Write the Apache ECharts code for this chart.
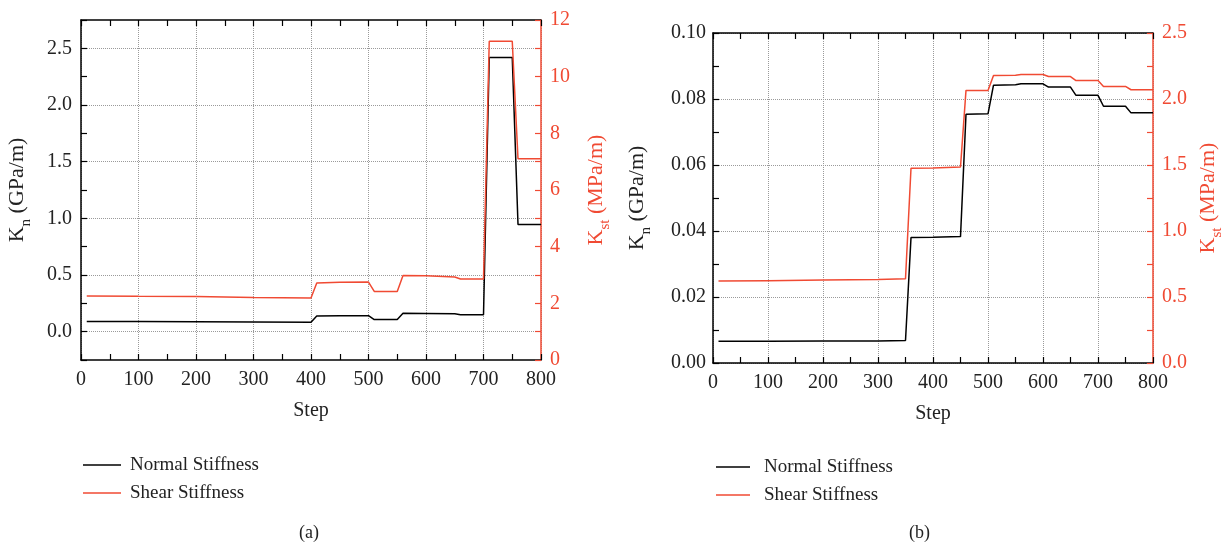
<!DOCTYPE html>
<html><head><meta charset="utf-8">
<script src="https://cdn.jsdelivr.net/npm/echarts@6/dist/echarts.min.js"></script>
<style>html,body{margin:0;padding:0;background:#fff}#c{width:1226px;height:547px}</style>
</head><body><div id="c"></div>
<script>
// Panel (a)
var stepsA = [10, 100, 200, 300, 400, 410, 450, 500, 510, 550, 560, 600, 650, 660, 700, 710, 750, 760, 800];
var normalA = [0.090, 0.089, 0.088, 0.086, 0.083, 0.138, 0.140, 0.141, 0.107, 0.107, 0.163, 0.161, 0.158, 0.150, 0.150, 2.42, 2.42, 0.945, 0.945];
var shearA = [2.26, 2.25, 2.24, 2.21, 2.19, 2.72, 2.74, 2.75, 2.42, 2.42, 2.98, 2.97, 2.93, 2.86, 2.86, 11.25, 11.25, 7.1, 7.1];
// Panel (b)
var stepsB = [10, 100, 200, 300, 350, 360, 400, 450, 460, 500, 510, 550, 560, 600, 610, 650, 660, 700, 710, 750, 760, 800];
var normalB = [0.0066, 0.0066, 0.0067, 0.0067, 0.0068, 0.0380, 0.0381, 0.0383, 0.0754, 0.0755, 0.0842, 0.0843, 0.0846, 0.0846, 0.0836, 0.0836, 0.0811, 0.0811, 0.0778, 0.0778, 0.0758, 0.0758];
var shearB = [0.622, 0.624, 0.628, 0.632, 0.638, 1.475, 1.478, 1.485, 2.065, 2.065, 2.178, 2.18, 2.185, 2.185, 2.17, 2.17, 2.14, 2.14, 2.095, 2.095, 2.07, 2.07];
var seriesNames = ['Normal Stiffness', 'Shear Stiffness'];
var captions = ['(a)', '(b)'];
var xLabel = 'Step';

var FONT = '"Liberation Serif", "DejaVu Serif", serif';
var RED = '#f04a33';
var GRID = '#9a9a9a';
var TICKFS = 20;

function pairs(xs, ys) { return xs.map(function (x, i) { return [x, ys[i]]; }); }

function xAxes(gi, bottomName) {
  var base = {
    gridIndex: gi, type: 'value', min: 0, max: 800, interval: 100,
    axisLine: { show: true, onZero: false, lineStyle: { color: '#000', width: 1.5 } },
    axisTick: { show: true, inside: true, length: 6, lineStyle: { color: '#000', width: 1.2 } },
    minorTick: { show: true, splitNumber: 2, length: 6, lineStyle: { color: '#000', width: 1.2 } }
  };
  var bottom = Object.assign({}, base, {
    position: 'bottom', name: bottomName, nameLocation: 'middle', nameGap: 41,
    nameTextStyle: { fontFamily: FONT, fontSize: 20, color: '#222' },
    axisLabel: { fontFamily: FONT, fontSize: TICKFS, color: '#222', margin: 10 },
    splitLine: { show: true, lineStyle: { color: GRID, type: 'dotted', width: 1 } }
  });
  var top = Object.assign({}, base, {
    position: 'top', axisLabel: { show: false }, splitLine: { show: false }
  });
  return [bottom, top];
}

function nameStyle(color) {
  return {
    fontFamily: FONT, color: color,
    rich: {
      k: { fontFamily: FONT, fontSize: 22, color: color, lineHeight: 25, verticalAlign: 'top' },
      s: { fontFamily: FONT, fontSize: 15, color: color, lineHeight: 15, padding: [13, 0, 0, 0], verticalAlign: 'top' }
    }
  };
}

function yCommon(color) {
  return {
    axisLine: { show: true, onZero: false, lineStyle: { color: color, width: 1.5 } },
    axisTick: { show: true, inside: true, length: 6, lineStyle: { color: color, width: 1.2 } }
  };
}

var option = {
  backgroundColor: '#fff',
  animation: false,
  grid: [
    { left: 81, right: 685, top: 20, bottom: 187 },
    { left: 713, right: 71, top: 33, bottom: 184 }
  ],
  xAxis: [].concat(xAxes(0, xLabel), xAxes(1, xLabel)),
  yAxis: [
    Object.assign({ // (a) left
      gridIndex: 0, type: 'value', position: 'left', min: -0.25, max: 2.75, interval: 0.25,
      name: '{k|K}{s|n}{k| (GPa/m)}', nameLocation: 'middle', nameRotate: 90, nameGap: 50,
      nameTextStyle: nameStyle('#222'),
      axisLabel: {
        fontFamily: FONT, fontSize: TICKFS, color: '#222', margin: 9,
        formatter: function (v) { var r = Math.round(v * 100); return (r % 50 === 0) ? (v).toFixed(1) : ''; }
      },
      splitLine: { show: true, lineStyle: { color: ['rgba(0,0,0,0)', GRID], type: 'dotted', width: 1 } }
    }, yCommon('#000')),
    Object.assign({ // (a) right
      gridIndex: 0, type: 'value', position: 'right', min: 0, max: 12, interval: 2,
      name: '{k|K}{s|st}{k| (MPa/m)}', nameLocation: 'middle', nameRotate: 90, nameGap: 44,
      nameTextStyle: nameStyle(RED),
      minorTick: { show: true, splitNumber: 2, length: 6, lineStyle: { color: RED, width: 1.2 } },
      axisLabel: { fontFamily: FONT, fontSize: TICKFS, color: RED, margin: 9 },
      splitLine: { show: false }
    }, yCommon(RED)),
    Object.assign({ // (b) left
      gridIndex: 1, type: 'value', position: 'left', min: 0, max: 0.1, interval: 0.02,
      name: '{k|K}{s|n}{k| (GPa/m)}', nameLocation: 'middle', nameRotate: 90, nameGap: 62,
      nameTextStyle: nameStyle('#222'),
      minorTick: { show: true, splitNumber: 2, length: 6, lineStyle: { color: '#000', width: 1.2 } },
      axisLabel: { fontFamily: FONT, fontSize: TICKFS, color: '#222', margin: 7, formatter: function (v) { return v.toFixed(2); } },
      splitLine: { show: true, lineStyle: { color: GRID, type: 'dotted', width: 1 } }
    }, yCommon('#000')),
    Object.assign({ // (b) right
      gridIndex: 1, type: 'value', position: 'right', min: 0, max: 2.5, interval: 0.5,
      name: '{k|K}{s|st}{k| (MPa/m)}', nameLocation: 'middle', nameRotate: 90, nameGap: 44,
      nameTextStyle: nameStyle(RED),
      minorTick: { show: true, splitNumber: 2, length: 6, lineStyle: { color: RED, width: 1.2 } },
      axisLabel: { fontFamily: FONT, fontSize: TICKFS, color: RED, margin: 9, formatter: function (v) { return v.toFixed(1); } },
      splitLine: { show: false }
    }, yCommon(RED))
  ],
  legend: [
    {
      orient: 'vertical', left: 78, top: 450, itemWidth: 38, itemHeight: 1.6, itemGap: 8, icon: 'rect',
      data: seriesNames, textStyle: { fontFamily: FONT, fontSize: 19, color: '#222', lineHeight: 20, padding: [0, 0, 0, 4] }
    },
    {
      orient: 'vertical', left: 711, top: 452, itemWidth: 34, itemHeight: 1.6, itemGap: 8, icon: 'rect',
      data: seriesNames, textStyle: { fontFamily: FONT, fontSize: 19, color: '#222', lineHeight: 20, padding: [0, 0, 0, 9] }
    }
  ],
  graphic: [
    { type: 'text', left: 299, top: 524, style: { text: captions[0], font: '18px ' + FONT, fill: '#222' } },
    { type: 'text', left: 909, top: 524, style: { text: captions[1], font: '18px ' + FONT, fill: '#222' } }
  ],
  series: [
    { name: seriesNames[0], type: 'line', xAxisIndex: 0, yAxisIndex: 0, data: pairs(stepsA, normalA), symbol: 'none', color: '#000', lineStyle: { width: 1.5, color: '#000' } },
    { name: seriesNames[1], type: 'line', xAxisIndex: 0, yAxisIndex: 1, data: pairs(stepsA, shearA), symbol: 'none', color: RED, lineStyle: { width: 1.5, color: RED } },
    { name: seriesNames[0], type: 'line', xAxisIndex: 2, yAxisIndex: 2, data: pairs(stepsB, normalB), symbol: 'none', color: '#000', lineStyle: { width: 1.5, color: '#000' } },
    { name: seriesNames[1], type: 'line', xAxisIndex: 2, yAxisIndex: 3, data: pairs(stepsB, shearB), symbol: 'none', color: RED, lineStyle: { width: 1.5, color: RED } }
  ]
};
var chart = echarts.init(document.getElementById('c'), null, { renderer: 'canvas' });
chart.setOption(option);
</script></body></html>
